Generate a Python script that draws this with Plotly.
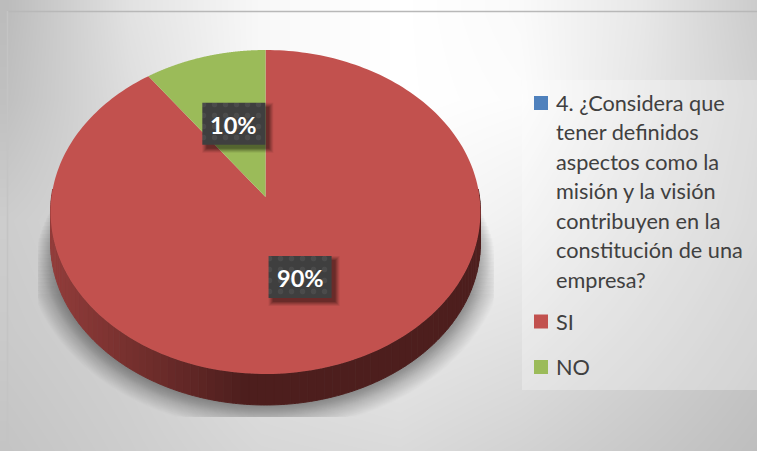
import numpy as np
import plotly.graph_objects as go

# Chart content
categories = [
    "4. ¿Considera que<br>tener definidos<br>aspectos como la<br>misión y la visión<br>contribuyen en la<br>constitución de una<br>empresa?",
    "SI",
    "NO",
]
values = [0, 90, 10]
colors = ["#4f81bd", "#c2514e", "#9bbb59"]

# Backdrop brightness sampled on a coarse grid
bg_x = [7, 130, 260, 400, 520, 640, 757]
bg_y = [12, 100, 220, 330, 451]
bg_z = [
    [188, 226, 248, 255, 250, 232, 204],
    [192, 222, 248, 255, 252, 230, 208],
    [205, 215, 235, 248, 240, 222, 205],
    [202, 210, 225, 232, 226, 212, 198],
    [196, 205, 215, 218, 210, 200, 190],
]

W, H = 757, 451
CX, CY, RX, RY, K = 265.5, 197.0, 214.0, 160.6, 0.0926
DEPTH = 31.0

fig = go.Figure()


def project(theta, r=1.0):
    """Tilted-disc projection; theta is clockwise from twelve o'clock."""
    u, v = r * np.sin(theta), r * np.cos(theta)
    d = 1 + K * v
    return CX + RX * u / d, CY - RY * v / d


def poly(xs, ys, fill, line=None, **extra):
    fig.add_trace(go.Scatter(
        x=[float(a) for a in xs], y=[float(a) for a in ys], mode="lines",
        fill="toself", fillcolor=fill,
        line=dict(width=1 if line else 0, color=line or fill, simplify=False),
        hoverinfo="skip", showlegend=False, **extra))


def rect(x0, y0, x1, y1, fill, **extra):
    poly([x0, x1, x1, x0, x0], [y0, y0, y1, y1, y0], fill, **extra)


# Backdrop
fig.add_trace(go.Heatmap(
    x=bg_x, y=bg_y, z=bg_z, zmin=0, zmax=255, zsmooth="best", showscale=False,
    colorscale=[[0, "#000000"], [1, "#ffffff"]], hoverinfo="skip"))

# Soft ground shadow, clipped to its own rectangle and deepest beside the wall
full = np.linspace(0, 2 * np.pi, 181)
ox, oy = project(full)
oy = oy + DEPTH
for s in np.arange(26, 0, -1.0):
    sx = CX + (ox - CX) * (1 + s / RX)
    sy = 240 + (oy - 240) * (1 + s / 170)
    sx = np.clip(sx, 38, 494)
    sy = np.clip(sy, 190 + s * 4, 417)
    poly(sx, sy, "rgba(0,0,0,0.02)" if s < 13 else "rgba(0,0,0,0.01)")

# Wall of the disc: shaded strip by strip along its visible lower edge
wall_angles = np.linspace(np.pi / 2 - 0.05, 3 * np.pi / 2 + 0.05, 91)
light, dark = np.array([146, 60, 58]), np.array([77, 30, 29])
for a0, a1 in zip(wall_angles[:-1], wall_angles[1:]):
    t = np.linspace(a0, a1, 4)
    x, y = project(t)
    mid = x.mean()
    f = np.clip((mid - 51) / (245 - 51), 0, 1)
    c = light + (dark - light) * f
    col = f"rgb({c[0]:.0f},{c[1]:.0f},{c[2]:.0f})"
    poly(np.r_[x, x[::-1]], np.r_[y, y[::-1] + DEPTH], col, line=col)

# Top face of the pie, drawn clockwise from twelve o'clock
total = sum(values)
start = 0.0
mids = []
for v, c in zip(values, colors):
    sweep = 2 * np.pi * v / total
    mids.append((v, start + sweep / 2))
    if v > 0:
        t = np.linspace(start, start + sweep, 241)
        x, y = project(t)
        poly(np.r_[CX, x, CX], np.r_[CY, y, CY], c)
    start += sweep

# Data labels: dark dotted plate with a drop shadow, at half radius
BW, BH = 63, 42
for v, mid in mids:
    if v == 0:
        continue
    lx, ly = project(mid, 0.5)
    for grow, alpha in ((4, 0.07), (3, 0.09), (2, 0.11), (1, 0.13), (0, 0.16)):
        rect(lx - BW / 2 + 4 - grow, ly - BH / 2 + 4 - grow,
             lx + BW / 2 + 4 + grow, ly + BH / 2 + 4 + grow,
             f"rgba(0,0,0,{alpha})")
    rect(lx - BW / 2, ly - BH / 2, lx + BW / 2, ly + BH / 2, "#3f3f3f",
         fillpattern=dict(shape=".", bgcolor="#3f3f3f", fgcolor="#585858",
                          size=11, solidity=0.18))
    fig.add_annotation(x=lx, y=ly + 1, text=f"<b>{v}%</b>", showarrow=False,
                       font=dict(family="Lato", size=23.5, color="#ffffff"))

# Legend panel
rect(522, 80, W, 390, "rgba(255,255,255,0.28)")
LINE = 29.45
legend_tops = [103.0, 321.5, 367.0]
for label, c, top in zip(categories, colors, legend_tops):
    rect(534, top - 7, 548, top + 7, c)
    for i, part in enumerate(label.split("<br>")):
        fig.add_annotation(x=554, y=top + i * LINE, text=part, xanchor="left",
                           showarrow=False,
                           font=dict(family="Lato", size=21.7, color="#404040"))

# Frame lines on the top and left of the chart area
fig.add_shape(type="line", x0=7, x1=W, y0=11.5, y1=11.5,
              line=dict(color="#b8b8b8", width=1.5))
fig.add_shape(type="line", x0=7.5, x1=7.5, y0=11, y1=H,
              line=dict(color="#c4c4c4", width=1.5))

fig.update_layout(
    width=W, height=H, margin=dict(l=0, r=0, t=0, b=0),
    paper_bgcolor="#ffffff", plot_bgcolor="#ffffff", showlegend=False,
    xaxis=dict(range=[0, W], visible=False, fixedrange=True),
    yaxis=dict(range=[H, 0], visible=False, fixedrange=True),
)
fig.write_html("out.html", config=dict(displayModeBar=False))
